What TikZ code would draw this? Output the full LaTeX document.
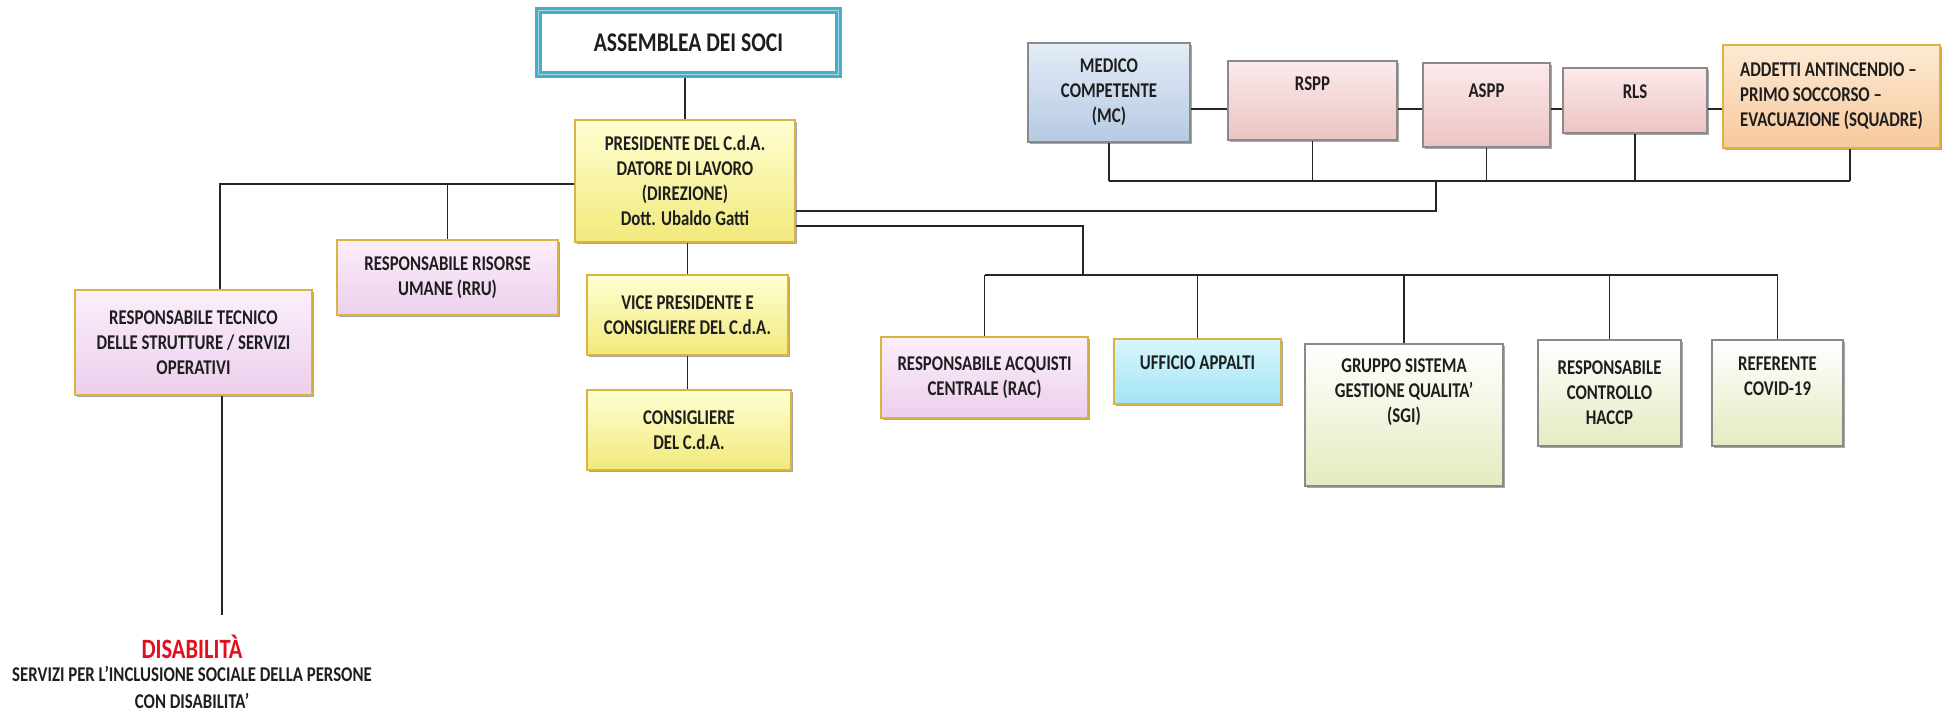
\documentclass[tikz,border=0pt]{standalone}
\usepackage{fontspec}
\setmainfont{Carlito}[FakeStretch=0.8]
\usepackage{tikz}
\usetikzlibrary{calc}
\usetikzlibrary{shadows}

\definecolor{yelltop}{HTML}{FFFFD2}
\definecolor{yellbot}{HTML}{F1E97C}
\definecolor{goldedge}{HTML}{D9B441}
\definecolor{pinktop}{HTML}{FBEFFB}
\definecolor{pinkbot}{HTML}{ECCFEC}
\definecolor{cyantop}{HTML}{D9F6FD}
\definecolor{cyanbot}{HTML}{A3E4F5}
\definecolor{greentop}{HTML}{FFFFFF}
\definecolor{greenbot}{HTML}{E2ECC0}
\definecolor{greyedge}{HTML}{8A8A8A}
\definecolor{bluetop}{HTML}{E3ECF7}
\definecolor{bluebot}{HTML}{B6CAE3}
\definecolor{rosetop}{HTML}{FCEAEA}
\definecolor{rosebot}{HTML}{EDC3C3}
\definecolor{peachtop}{HTML}{FDEAD4}
\definecolor{peachbot}{HTML}{F7C89C}
\definecolor{asmteal}{HTML}{4BACC6}
\definecolor{asmlight}{HTML}{A5D5E2}
\definecolor{disred}{HTML}{E3101B}
\definecolor{inktext}{HTML}{1E1E1E}

\newcommand{\lift}[2]{\raisebox{#1}[\height][\depth]{\begin{tabular}{@{}c@{}}#2\end{tabular}}}

\tikzset{
	box/.style={rectangle, line width=0.8pt, align=center, inner sep=0pt, text=inktext,
		font=\bfseries\fontsize{10.5}{12.5}\selectfont,
		drop shadow={shadow xshift=1.2pt, shadow yshift=-1.2pt, fill=black, opacity=0.35}},
	yellowbox/.style={box, draw=goldedge, top color=yelltop, bottom color=yellbot},
	pinkbox/.style={box, draw=goldedge, top color=pinktop, bottom color=pinkbot},
	cyanbox/.style={box, draw=goldedge, top color=cyantop, bottom color=cyanbot},
	greenbox/.style={box, draw=greyedge, top color=greentop, bottom color=greenbot},
	bluebox/.style={box, draw=greyedge, top color=bluetop, bottom color=bluebot},
	rosebox/.style={box, draw=greyedge, top color=rosetop, bottom color=rosebot},
	peachbox/.style={box, draw=goldedge, top color=peachtop, bottom color=peachbot},
	sz/.style 2 args={minimum width=#1, minimum height=#2},
	line/.style={line width=0.9pt, black!85}
}

\begin{document}
\begin{tikzpicture}[x=0.5pt, y=-0.5pt]
			\useasboundingbox (0,0) rectangle (1944,713);

			\node[draw=asmteal, line width=3.5pt, fill=white, sz={150pt}{32pt}, text=inktext,
				font=\bfseries\fontsize{13.5}{15}\selectfont,
				drop shadow={shadow xshift=1.5pt, shadow yshift=-1.5pt, fill=black, opacity=0.4}]
				(assemblea) at (688.5,42.5) {ASSEMBLEA DEI SOCI};
			\draw[asmlight, line width=0.6pt] ([shift={(1.9pt,-1.9pt)}]assemblea.north west) rectangle ([shift={(-1.9pt,1.9pt)}]assemblea.south east);

			\node[yellowbox, sz={110pt}{61pt}] (pres) at (685,181) {PRESIDENTE DEL C.d.A.\\DATORE DI LAVORO\\(DIREZIONE)\\Dott. Ubaldo Gatti};
			\node[yellowbox, sz={100.5pt}{40pt}] (vice) at (687.5,315) {VICE PRESIDENTE E\\CONSIGLIERE DEL C.d.A.};
			\node[yellowbox, sz={102pt}{40pt}] (cons) at (689,430) {CONSIGLIERE\\DEL C.d.A.};

			\node[pinkbox, sz={118.5pt}{52.5pt}] (tech) at (193.5,342.5) {RESPONSABILE TECNICO\\DELLE STRUTTURE / SERVIZI\\OPERATIVI};
			\node[pinkbox, sz={110.5pt}{37.5pt}] (rru) at (447.5,277.5) {RESPONSABILE RISORSE\\UMANE (RRU)};

			\node[bluebox, sz={81pt}{49.5pt}] (mc) at (1109,92.5) {MEDICO\\COMPETENTE\\(MC)};
			\node[rosebox, sz={84.5pt}{39.5pt}] (rspp) at (1312.5,100.5) {\lift{7.5pt}{RSPP}};
			\node[rosebox, sz={63.5pt}{42pt}] (aspp) at (1486.5,105) {\lift{6.5pt}{ASPP}};
			\node[rosebox, sz={72pt}{32.5pt}] (rls) at (1635,100.5) {\lift{3.75pt}{RLS}};
			\node[peachbox, sz={108.5pt}{51.5pt}, align=left] (addetti) at (1831.5,96.5) {ADDETTI ANTINCENDIO --\\PRIMO SOCCORSO --\\EVACUAZIONE (SQUADRE)};

			\node[pinkbox, sz={103.5pt}{40.5pt}] (rac) at (984.5,377.5) {RESPONSABILE ACQUISTI\\CENTRALE (RAC)};
			\node[cyanbox, sz={83.5pt}{32.5pt}] (appalti) at (1197.5,371.5) {\lift{3.75pt}{UFFICIO APPALTI}};
			\node[greenbox, sz={99pt}{71pt}] (sgi) at (1404,415) {\lift{11.5pt}{GRUPPO SISTEMA\\GESTIONE QUALITA'\\(SGI)}};
			\node[greenbox, sz={71.5pt}{53pt}] (haccp) at (1609.5,393) {RESPONSABILE\\CONTROLLO\\HACCP};
			\node[greenbox, sz={65.5pt}{53pt}] (covid) at (1777.5,393) {\lift{7.5pt}{REFERENTE\\COVID-19}};

			\node[text=disred, font=\bfseries\fontsize{14}{16}\selectfont] (dis) at (192,647) {DISABILITÀ};
			\node[text=inktext, align=center, inner sep=1pt, font=\bfseries\fontsize{10.5}{13.5}\selectfont] (disserv) at (192,687) {SERVIZI PER L'INCLUSIONE SOCIALE DELLA PERSONE\\CON DISABILITA'};

			\coordinate (lbus) at (220,184);
			\coordinate (sbus) at (1436,181);
			\coordinate (addrop) at (1850,181);
			\coordinate (srow) at (0,109);
			\coordinate (lowbus) at (1083,275);
			\coordinate (distop) at (222,615);

			\draw[line] (pres.north) -- (pres.north |- assemblea.south);
			\draw[line] (pres.west |- lbus) -- (lbus) -- (lbus |- tech.north);
			\draw[line] (rru.north |- lbus) -- (rru.north);
			\draw[line] (tech.south -| distop) -- (distop);
			\draw[line] (pres.south -| vice.north) -- (vice.north);
			\draw[line] (vice.south) -- (vice.south |- cons.north);

			\draw[line] ([yshift=-15pt]pres.east) -| (sbus);
			\draw[line] (mc.south |- sbus) -- (addrop);
			\foreach \n in {mc,rspp,aspp,rls}
				\draw[line] (\n.south) -- (\n.south |- sbus);
			\draw[line] (addrop) -- (addrop |- addetti.south);
			\foreach \a/\b in {mc/rspp,rspp/aspp,aspp/rls,rls/addetti}
				\draw[line] (\a.east |- srow) -- (\b.west |- srow);

			\draw[line] ([yshift=-22.5pt]pres.east) -| (lowbus);
			\draw[line] (rac.north |- lowbus) -- (covid.north |- lowbus);
			\foreach \n in {rac,appalti,sgi,haccp,covid}
				\draw[line] (\n.north |- lowbus) -- (\n.north);
		\end{tikzpicture}
\end{document}
